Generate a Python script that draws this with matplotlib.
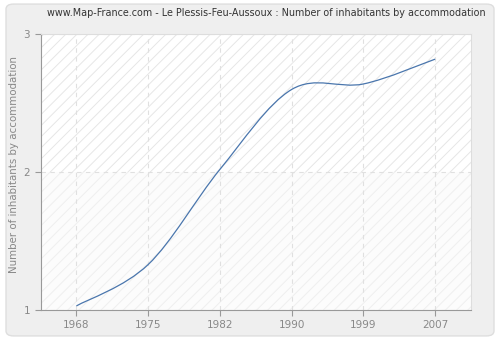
import matplotlib
matplotlib.use("Agg")
import matplotlib.pyplot as plt
from matplotlib.path import Path
from matplotlib.patches import PathPatch, Rectangle, FancyBboxPatch

years = ["1968", "1975", "1982", "1990", "1999", "2007"]
values = [1.03, 1.33, 2.02, 2.60, 2.64, 2.82]
yticks = [1, 2, 3]
title = "www.Map-France.com - Le Plessis-Feu-Aussoux : Number of inhabitants by accommodation"
ylabel = "Number of inhabitants by accommodation"

plt.rcParams['hatch.linewidth'] = 0.7
fig = plt.figure(figsize=(5, 3.4), dpi=100)
fig.patch.set_facecolor("white")
frame = FancyBboxPatch((0.012, 0.012), 0.976, 0.976, boxstyle="round,pad=0,rounding_size=0.015",
                       transform=fig.transFigure, facecolor="#efefef", edgecolor="#dedede",
                       linewidth=1.0, zorder=-5)
fig.patches.append(frame)

ax = fig.add_axes([0.081, 0.088, 0.861, 0.811])
ax.set_zorder(1)
ax.set_facecolor("white")
xs = list(range(len(years)))
ax.set_xlim(-0.5, len(years) - 0.5)
ax.set_ylim(1, 3)

# background bands with hatching
ax.add_patch(Rectangle((-0.5, 2), len(years), 1, facecolor="white", edgecolor="#e6e6e6",
                       hatch="///", linewidth=0, zorder=0))
ax.add_patch(Rectangle((-0.5, 1), len(years), 1, facecolor="#fcfcfc", edgecolor="#efefef",
                       hatch="///", linewidth=0, zorder=0))

# smooth curve (Catmull-Rom as cubic Bezier segments)
pts = list(zip(xs, values))
verts = [pts[0]]
codes = [Path.MOVETO]
n = len(pts)
for i in range(n - 1):
    p0 = pts[i - 1] if i > 0 else pts[i]
    p1 = pts[i]
    p2 = pts[i + 1]
    p3 = pts[i + 2] if i + 2 < n else pts[i + 1]
    c1 = (p1[0] + (p2[0] - p0[0]) / 6, p1[1] + (p2[1] - p0[1]) / 6)
    c2 = (p2[0] - (p3[0] - p1[0]) / 6, p2[1] - (p3[1] - p1[1]) / 6)
    verts += [c1, c2, p2]
    codes += [Path.CURVE4] * 3
ax.add_patch(PathPatch(Path(verts, codes), facecolor="none", edgecolor="#4a76ad",
                       linewidth=0.9, zorder=3))

ax.set_xticks(xs)
ax.set_xticklabels(years)
ax.set_yticks(yticks)
ax.grid(True, color="#e0e0e0", linestyle=(0, (4, 4)), linewidth=0.8, zorder=1)
ax.set_axisbelow(True)

for s in ["top", "right"]:
    ax.spines[s].set_color("#dddddd")
for s in ["left", "bottom"]:
    ax.spines[s].set_color("#999999")
ax.tick_params(axis="both", colors="#999999", labelcolor="#888888", labelsize=7.5,
               length=4, width=0.8, direction="out")
ax.tick_params(axis="x", pad=3)

fig.text(0.533, 0.962, title, ha="center", va="center", fontsize=6.9, color="#333333")
fig.text(0.028, 0.515, ylabel, rotation=90, ha="center", va="center", fontsize=7.4, color="#888888")

fig.savefig("out.png", dpi=100, facecolor=fig.get_facecolor())
